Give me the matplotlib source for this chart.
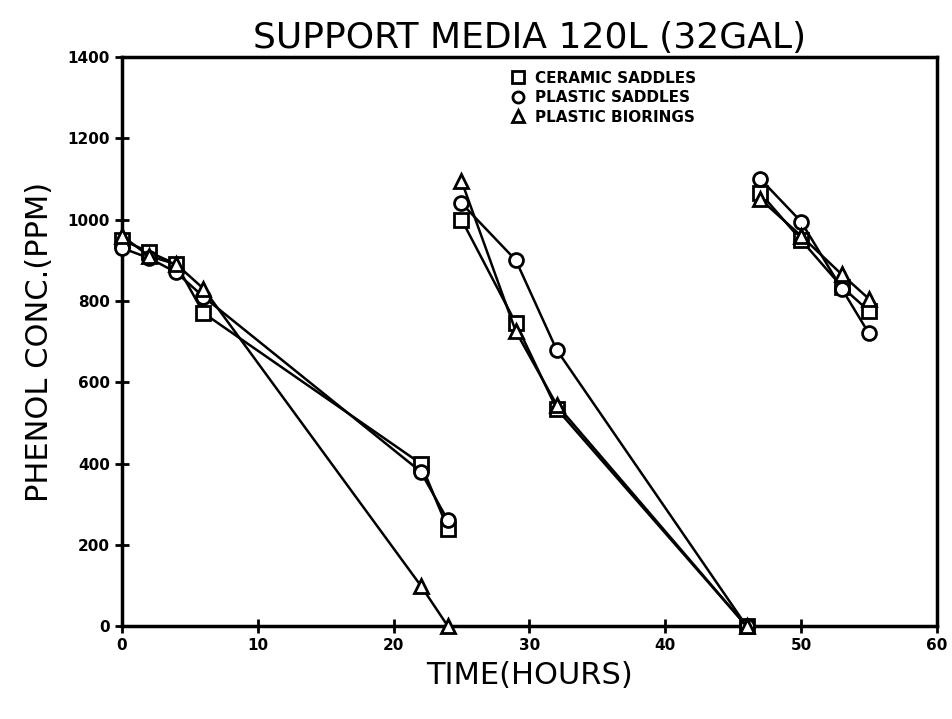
import matplotlib.pyplot as plt
from matplotlib.lines import Line2D

# три партии, каждая рисуется отдельным отрезком
batches = [[0, 2, 4, 6, 22, 24], [25, 29, 32, 46], [47, 50, 53, 55]]

ceramic_saddles = [[950, 920, 890, 770, 400, 240], [1000, 745, 535, 0], [1065, 950, 835, 775]]
plastic_saddles = [[930, 905, 870, 810, 380, 260], [1040, 900, 680, 0], [1100, 995, 830, 720]]
plastic_biorings = [[960, 910, 890, 830, 100, 0], [1095, 725, 545, 0], [1050, 960, 865, 805]]

series = [
    ("CERAMIC SADDLES", "s", ceramic_saddles),
    ("PLASTIC SADDLES", "o", plastic_saddles),
    ("PLASTIC BIORINGS", "^", plastic_biorings),
]

xticks = [0, 10, 20, 30, 40, 50, 60]
yticks = [0, 200, 400, 600, 800, 1000, 1200, 1400]

fig = plt.figure(figsize=(9.53, 7.19), dpi=100)
ax = fig.add_axes([0.128, 0.129, 0.855, 0.792])

for name, mk, vals in series:
    for t, v in zip(batches, vals):
        ax.plot(t, v, color='black', linewidth=1.8, marker=mk, markersize=10,
                markerfacecolor='white', markeredgecolor='black', markeredgewidth=2,
                clip_on=False, zorder=3)

ax.set_xlim(0, 60)
ax.set_ylim(0, 1400)
ax.set_xticks(xticks)
ax.set_yticks(yticks)
ax.tick_params(direction='inout', length=10, width=2, labelsize=11)
for lab in ax.get_xticklabels() + ax.get_yticklabels():
    lab.set_fontweight('bold')
for sp in ax.spines.values():
    sp.set_linewidth(2.5)

ax.set_title("SUPPORT MEDIA 120L (32GAL)", fontsize=26, pad=6)
ax.set_xlabel("TIME(HOURS)", fontsize=22, labelpad=6)
ax.set_ylabel("PHENOL CONC.(PPM)", fontsize=22, labelpad=10)

handles = [Line2D([], [], linestyle='none', marker=mk, markersize=8, markerfacecolor='white',
                  markeredgecolor='black', markeredgewidth=2) for _, mk, _ in series]
ax.legend(handles, [s[0] for s in series], loc='upper left', bbox_to_anchor=(0.46, 1.0),
          frameon=False, handlelength=1, handletextpad=0.6, labelspacing=0.3,
          prop={'weight': 'bold', 'size': 11})

plt.savefig('out.png')
